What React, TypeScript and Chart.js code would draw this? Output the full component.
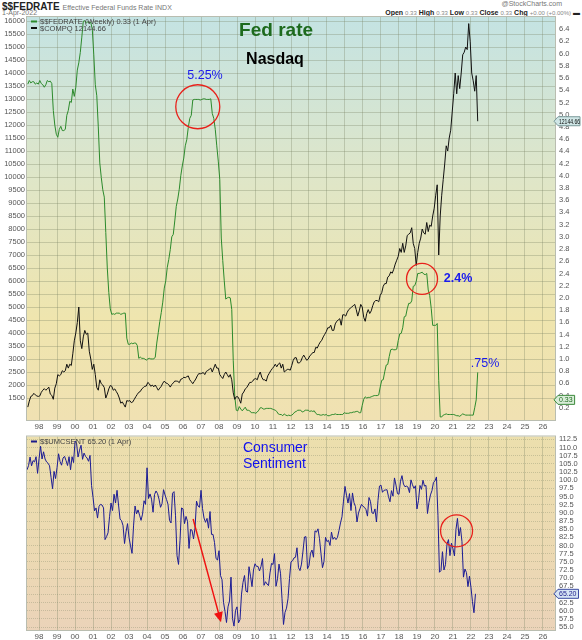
import React, { useEffect, useRef } from "react";
import { Chart, registerables } from "chart.js";
Chart.register(...registerables);

const FONT = '"Liberation Sans", Arial, sans-serif';

// ---------- axis ticks ----------
const YEAR_TICKS = [1998, 1999, 2000, 2001, 2002, 2003, 2004, 2005, 2006, 2007, 2008, 2009, 2010, 2011, 2012, 2013, 2014, 2015, 2016, 2017, 2018, 2019, 2020, 2021, 2022, 2023, 2024, 2025, 2026];
const YEAR_LABELS = ["98", "99", "00", "01", "02", "03", "04", "05", "06", "07", "08", "09", "10", "11", "12", "13", "14", "15", "16", "17", "18", "19", "20", "21", "22", "23", "24", "25", "26"];
const NASDAQ_TICKS = [1500, 2000, 2500, 3000, 3500, 4000, 4500, 5000, 5500, 6000, 6500, 7000, 7500, 8000, 8500, 9000, 9500, 10000, 10500, 11000, 11500, 12000, 12500, 13000, 13500, 14000, 14500, 15000, 15500, 16000];
const FED_TICKS = [0.2, 0.4, 0.6, 0.8, 1.0, 1.2, 1.4, 1.6, 1.8, 2.0, 2.2, 2.4, 2.6, 2.8, 3.0, 3.2, 3.4, 3.6, 3.8, 4.0, 4.2, 4.4, 4.6, 4.8, 5.0, 5.2, 5.4, 5.6, 5.8, 6.0, 6.2, 6.4];
const SENT_TICKS = [55, 57.5, 60, 62.5, 65, 67.5, 70, 72.5, 75, 77.5, 80, 82.5, 85, 87.5, 90, 92.5, 95, 97.5, 100, 102.5, 105, 107.5, 110, 112.5];

// ---------- series (monthly, starting May 1997) ----------
const SERIES_START_YEAR = 1997;
const SERIES_START_MONTH = 4; // 0-based: May

const NASDAQ = [
  // 1997 May-Dec
  1150, 1380, 1560, 1590, 1680, 1620, 1580, 1560,
  // 1998
  1580, 1720, 1800, 1860, 1800, 1850, 1920, 1650, 1600, 1450, 1880, 2050,
  // 1999
  2400, 2350, 2400, 2550, 2500, 2550, 2800, 2650, 2800, 2750, 3200, 3700,
  // 2000
  4000, 4400, 5000, 3700, 3400, 3850, 4100, 3950, 4000, 3300, 3000, 2600,
  // 2001
  2800, 2400, 1900, 1800, 2200, 2050, 2000, 1900, 1500, 1650, 1850, 1980,
  // 2002
  1950, 1800, 1850, 1750, 1650, 1500, 1300, 1350, 1250, 1150, 1400, 1380,
  // 2003
  1400, 1320, 1350, 1450, 1550, 1640, 1720, 1750, 1850, 1900, 1950, 1960,
  // 2004
  2100, 2050, 1950, 2000, 1930, 2000, 1900, 1800, 1880, 1950, 2070, 2150,
  // 2005
  2080, 2060, 2010, 1920, 2020, 2080, 2150, 2150, 2140, 2090, 2220, 2240,
  // 2006
  2300, 2280, 2320, 2350, 2200, 2130, 2050, 2140, 2230, 2350, 2440, 2430,
  // 2007
  2450, 2480, 2400, 2520, 2560, 2600, 2650, 2500, 2650, 2800, 2650, 2650,
  // 2008
  2400, 2320, 2250, 2400, 2500, 2400, 2300, 2400, 2200, 1700, 1450, 1550,
  // 2009
  1550, 1450, 1300, 1650, 1730, 1850, 1900, 2000, 2100, 2100, 2150, 2230,
  // 2010
  2250, 2200, 2380, 2500, 2300, 2200, 2200, 2150, 2350, 2450, 2550, 2630,
  // 2011
  2700, 2800, 2700, 2800, 2850, 2650, 2800, 2500, 2550, 2600, 2600, 2570,
  // 2012
  2750, 2950, 3050, 3050, 2850, 2850, 2900, 3050, 3150, 3050, 2950, 3000,
  // 2013
  3120, 3170, 3250, 3250, 3450, 3420, 3550, 3650, 3720, 3850, 3950, 4050,
  // 2014
  4200, 4200, 4300, 4100, 4100, 4350, 4450, 4500, 4550, 4300, 4700, 4700,
  // 2015
  4650, 4800, 4900, 4950, 5000, 5050, 5100, 4900, 4650, 4850, 5100, 5000,
  // 2016
  4600, 4450, 4750, 4900, 4750, 4850, 5050, 5200, 5250, 5250, 5200, 5450,
  // 2017
  5550, 5800, 5900, 5900, 6150, 6200, 6350, 6300, 6450, 6650, 6800, 6950,
  // 2018
  7250, 7100, 7450, 7100, 7350, 7750, 7800, 7850, 8050, 7450, 7250, 6600,
  // 2019
  7100, 7450, 7650, 8000, 7850, 7800, 8250, 7900, 8150, 8100, 8500, 8800,
  // 2020
  9300, 9700, 7000, 8500, 9300, 9900, 10500, 11200, 11000, 11500, 11800, 12500,
  // 2021
  13200, 14000, 13200, 13900, 13400, 14000, 14700, 14800, 15000, 14900, 15900, 15200,
  // 2022 Jan-May
  14000, 13700, 13300, 13900, 12144.66,
];

const FED_RATE = [
  // 1997 May-Dec
  5.50, 5.56, 5.52, 5.54, 5.54, 5.50, 5.52, 5.50,
  // 1998
  5.56, 5.51, 5.49, 5.45, 5.49, 5.56, 5.54, 5.55, 5.51, 5.07, 4.83, 4.68,
  // 1999
  4.63, 4.76, 4.81, 4.74, 4.74, 4.76, 4.99, 5.07, 5.22, 5.20, 5.42, 5.30,
  // 2000
  5.45, 5.73, 5.85, 6.02, 6.27, 6.53, 6.54, 6.50, 6.52, 6.51, 6.51, 6.40,
  // 2001
  5.98, 5.49, 5.31, 4.80, 4.21, 3.97, 3.77, 3.65, 3.07, 2.49, 2.09, 1.82,
  // 2002
  1.73, 1.74, 1.73, 1.75, 1.75, 1.75, 1.73, 1.74, 1.75, 1.75, 1.34, 1.24,
  // 2003
  1.24, 1.26, 1.25, 1.26, 1.26, 1.22, 1.01, 1.03, 1.01, 1.01, 1.00, 0.98,
  // 2004
  1.00, 1.01, 1.00, 1.00, 1.00, 1.03, 1.26, 1.43, 1.61, 1.76, 1.93, 2.16,
  // 2005
  2.28, 2.50, 2.63, 2.79, 3.00, 3.04, 3.26, 3.50, 3.62, 3.78, 4.00, 4.16,
  // 2006
  4.29, 4.49, 4.59, 4.79, 4.94, 4.99, 5.24, 5.25, 5.25, 5.25, 5.25, 5.24,
  // 2007
  5.25, 5.26, 5.26, 5.25, 5.25, 5.25, 5.26, 5.02, 4.94, 4.76, 4.49, 4.24,
  // 2008
  3.94, 2.98, 2.61, 2.28, 1.98, 2.00, 2.01, 2.00, 1.81, 0.97, 0.39, 0.16,
  // 2009
  0.15, 0.22, 0.18, 0.15, 0.18, 0.21, 0.16, 0.16, 0.15, 0.12, 0.12, 0.12,
  // 2010
  0.11, 0.13, 0.16, 0.20, 0.20, 0.18, 0.18, 0.19, 0.19, 0.19, 0.19, 0.18,
  // 2011
  0.17, 0.16, 0.14, 0.10, 0.09, 0.09, 0.07, 0.10, 0.08, 0.07, 0.08, 0.07,
  // 2012
  0.08, 0.10, 0.13, 0.14, 0.16, 0.16, 0.16, 0.13, 0.14, 0.16, 0.16, 0.16,
  // 2013
  0.14, 0.15, 0.14, 0.15, 0.11, 0.09, 0.09, 0.08, 0.08, 0.09, 0.08, 0.09,
  // 2014
  0.07, 0.07, 0.08, 0.09, 0.09, 0.10, 0.09, 0.09, 0.09, 0.09, 0.09, 0.12,
  // 2015
  0.11, 0.11, 0.11, 0.12, 0.12, 0.13, 0.13, 0.14, 0.14, 0.12, 0.12, 0.24,
  // 2016
  0.34, 0.38, 0.36, 0.37, 0.37, 0.38, 0.39, 0.40, 0.40, 0.40, 0.41, 0.54,
  // 2017
  0.65, 0.66, 0.79, 0.90, 0.91, 1.04, 1.15, 1.16, 1.15, 1.15, 1.16, 1.30,
  // 2018
  1.41, 1.42, 1.51, 1.69, 1.70, 1.82, 1.91, 1.91, 1.95, 2.19, 2.20, 2.27,
  // 2019
  2.40, 2.40, 2.41, 2.42, 2.39, 2.38, 2.40, 2.13, 2.04, 1.83, 1.55, 1.55,
  // 2020
  1.55, 1.58, 0.65, 0.05, 0.05, 0.08, 0.09, 0.10, 0.09, 0.09, 0.09, 0.09,
  // 2021
  0.09, 0.08, 0.07, 0.07, 0.06, 0.08, 0.10, 0.09, 0.08, 0.08, 0.08, 0.08,
  // 2022 Jan-May
  0.08, 0.08, 0.20, 0.33, 0.78,
];

const SENTIMENT = [
  // 1997 May-Dec
  103.2, 104.5, 107.1, 104.4, 106.0, 105.6, 107.2, 102.1,
  // 1998
  106.6, 110.4, 106.5, 108.7, 106.5, 105.6, 105.2, 104.4, 100.9, 97.4, 102.7, 100.5,
  // 1999
  103.9, 108.1, 105.7, 104.6, 106.8, 107.3, 106.0, 104.5, 107.2, 103.2, 107.2, 105.4,
  // 2000
  112.0, 111.3, 107.1, 109.2, 110.7, 106.4, 108.3, 107.3, 106.8, 105.8, 107.6, 98.4,
  // 2001
  94.7, 90.6, 91.5, 88.4, 92.0, 92.6, 92.4, 91.5, 81.8, 82.7, 83.9, 88.8,
  // 2002
  93.0, 90.7, 95.7, 93.0, 96.9, 92.4, 88.1, 87.6, 86.1, 80.6, 84.2, 86.7,
  // 2003
  82.4, 79.9, 77.6, 86.0, 92.1, 89.7, 90.9, 89.3, 87.7, 89.6, 93.7, 92.6,
  // 2004
  103.8, 94.4, 95.8, 94.2, 90.2, 95.6, 96.7, 95.9, 94.2, 91.7, 92.8, 97.1,
  // 2005
  95.5, 94.1, 92.6, 87.7, 86.9, 96.0, 96.5, 89.1, 76.9, 74.2, 81.6, 91.5,
  // 2006
  91.2, 86.7, 88.9, 87.4, 79.1, 84.9, 84.7, 82.0, 85.4, 93.6, 92.1, 91.7,
  // 2007
  96.9, 91.3, 88.4, 87.1, 88.3, 85.3, 90.4, 83.4, 83.4, 80.9, 76.1, 75.5,
  // 2008
  78.4, 70.8, 69.5, 62.6, 59.8, 56.4, 61.2, 63.0, 70.3, 57.6, 55.3, 60.1,
  // 2009
  61.2, 56.3, 57.3, 65.1, 68.7, 70.8, 66.0, 65.7, 73.5, 70.6, 67.4, 72.5,
  // 2010
  74.4, 73.6, 73.6, 72.2, 73.6, 76.0, 67.8, 68.9, 68.2, 67.7, 71.6, 74.5,
  // 2011
  74.2, 77.5, 67.5, 69.8, 74.3, 71.5, 63.7, 55.8, 59.5, 60.8, 63.7, 69.9,
  // 2012
  75.0, 75.3, 76.2, 76.4, 79.3, 73.2, 72.3, 74.3, 78.3, 82.6, 82.7, 72.9,
  // 2013
  73.8, 77.6, 78.6, 76.4, 84.5, 84.1, 85.1, 82.1, 77.5, 73.2, 75.1, 82.5,
  // 2014
  81.2, 81.6, 80.0, 84.1, 81.9, 82.5, 81.8, 82.5, 84.6, 86.9, 88.8, 93.6,
  // 2015
  98.1, 95.4, 93.0, 95.9, 90.7, 96.1, 93.1, 91.9, 87.2, 90.0, 91.3, 92.6,
  // 2016
  92.0, 91.7, 91.0, 89.0, 94.7, 93.5, 90.0, 89.8, 91.2, 87.2, 93.8, 98.2,
  // 2017
  98.5, 96.3, 96.9, 97.0, 97.1, 95.0, 93.4, 96.8, 95.1, 100.7, 98.5, 95.9,
  // 2018
  95.7, 99.7, 101.4, 98.8, 98.0, 98.2, 97.9, 96.2, 100.1, 98.6, 97.5, 98.3,
  // 2019
  91.2, 93.8, 98.4, 97.2, 100.0, 98.2, 98.4, 89.8, 93.2, 95.5, 96.8, 99.3,
  // 2020
  99.8, 101.0, 89.1, 71.8, 72.3, 78.1, 72.5, 74.1, 80.4, 81.8, 76.9, 80.7,
  // 2021
  79.0, 76.8, 84.9, 88.3, 82.9, 85.5, 81.2, 70.3, 72.8, 71.7, 67.4, 70.6,
  // 2022 Jan-Apr
  67.2, 62.8, 59.4, 65.2,
];

const LAST_NASDAQ = 12144.66;
const LAST_FED = 0.33;
const LAST_SENT = 65.2;

// ---------- layout constants ----------
const X_MIN = 1997.33;
const X_MAX = 2026.67;
const TOP_H = 431;
const BOT_TOP = 428;
const BOT_H = 212;

const GRID = "rgba(120,130,100,0.32)";
const TICK_COLOR = "#555";

function monthlyPoints(values: number[], offset: number) {
  return values.map((v, i) => ({
    x: SERIES_START_YEAR + (SERIES_START_MONTH + i + offset) / 12,
    y: v,
  }));
}

function bgPlugin(stops: [number, string][]) {
  return {
    id: "bg",
    beforeDraw(chart: any) {
      const { ctx, chartArea: a } = chart;
      const g = ctx.createLinearGradient(0, a.top, 0, a.bottom);
      stops.forEach(([o, c]) => g.addColorStop(o, c));
      ctx.save();
      ctx.fillStyle = g;
      ctx.fillRect(a.left, a.top, a.right - a.left, a.bottom - a.top);
      ctx.restore();
    },
    afterDraw(chart: any) {
      const { ctx, chartArea: a } = chart;
      ctx.save();
      ctx.strokeStyle = "#b9bdb0";
      ctx.lineWidth = 1;
      ctx.strokeRect(a.left - 0.5, a.top - 0.5, a.right - a.left + 1, a.bottom - a.top + 1);
      ctx.restore();
    },
  };
}

function drawTag(ctx: CanvasRenderingContext2D, x: number, y: number, text: string, fill: string, stroke: string, color: string) {
  ctx.save();
  ctx.font = `7px ${FONT}`;
  const w = Math.min(ctx.measureText(text).width + 3, 582 - x - 4);
  const h = 9;
  ctx.beginPath();
  ctx.moveTo(x - 2, y);
  ctx.lineTo(x + 2, y - h / 2);
  ctx.lineTo(x + 2 + w, y - h / 2);
  ctx.lineTo(x + 2 + w, y + h / 2);
  ctx.lineTo(x + 2, y + h / 2);
  ctx.closePath();
  ctx.fillStyle = fill;
  ctx.fill();
  ctx.strokeStyle = stroke;
  ctx.lineWidth = 1;
  ctx.stroke();
  ctx.fillStyle = color;
  ctx.textAlign = "left";
  ctx.textBaseline = "middle";
  ctx.fillText(text, x + 3, y + 0.5, w - 1);
  ctx.restore();
}

function legendLine(ctx: CanvasRenderingContext2D, x: number, y: number, color: string, text: string) {
  ctx.save();
  ctx.strokeStyle = color;
  ctx.lineWidth = 2;
  ctx.beginPath();
  ctx.moveTo(x, y);
  ctx.lineTo(x + 6, y);
  ctx.stroke();
  ctx.font = `7.5px ${FONT}`;
  ctx.fillStyle = "#444";
  ctx.textBaseline = "middle";
  ctx.textAlign = "left";
  ctx.fillText(text, x + 9, y + 0.5);
  ctx.restore();
}

const TOP_CIRCLES = [
  { year: 2006.82, rate: 5.13, r: 22 },
  { year: 2019.28, rate: 2.31, r: 15.5 },
];
const TOP_TEXTS = [
  { text: "Fed rate", year: 2011.17, rate: 6.37, font: `bold 19px ${FONT}`, color: "#1d6a1d" },
  { text: "Nasdaq", year: 2011.11, rate: 5.91, font: `bold 16px ${FONT}`, color: "#000" },
  { text: "5.25%", year: 2007.22, rate: 5.64, font: `12.5px ${FONT}`, color: "#1a1aee" },
  { text: "2.4%", year: 2021.28, rate: 2.32, font: `bold 12.5px ${FONT}`, color: "#1a1aee" },
  { text: ".75%", year: 2022.78, rate: 0.93, font: `12.5px ${FONT}`, color: "#1a1aee" },
];

const topAnno = {
  id: "topAnno",
  afterDatasetsDraw(chart: any) {
    const { ctx, scales, chartArea } = chart;
    const x = scales.x;
    const yR = scales.yR;
    ctx.save();
    ctx.strokeStyle = "#e8201a";
    ctx.lineWidth = 1.3;
    for (const c of TOP_CIRCLES) {
      ctx.beginPath();
      ctx.arc(x.getPixelForValue(c.year), yR.getPixelForValue(c.rate), c.r, 0, Math.PI * 2);
      ctx.stroke();
    }
    ctx.textAlign = "center";
    ctx.textBaseline = "middle";
    for (const t of TOP_TEXTS) {
      ctx.font = t.font;
      ctx.fillStyle = t.color;
      ctx.fillText(t.text, x.getPixelForValue(t.year), yR.getPixelForValue(t.rate));
    }
    ctx.restore();
    legendLine(ctx, chartArea.left + 4, chartArea.top + 4.5, "#2c8a2c", `$$FEDRATE (Weekly) ${LAST_FED.toFixed(2)} (1 Apr)`);
    legendLine(ctx, chartArea.left + 4, chartArea.top + 11, "#111", `$COMPQ ${LAST_NASDAQ.toFixed(2)}`);
  },
  afterDraw(chart: any) {
    const { ctx, scales, chartArea } = chart;
    drawTag(ctx, chartArea.right + 1, scales.yL.getPixelForValue(LAST_NASDAQ), LAST_NASDAQ.toFixed(2), "#cfe6e6", "#7a9a9a", "#111");
    drawTag(ctx, chartArea.right + 1, scales.yR.getPixelForValue(LAST_FED), LAST_FED.toFixed(2), "#d8ecd8", "#3a8a3a", "#1d6a1d");
  },
};

const BOT_CIRCLES = [{ year: 2021.2, value: 84.5, r: 16 }];
const BOT_TEXTS = [
  { text: "Consumer", year: 2009.33, value: 109.8 },
  { text: "Sentiment", year: 2009.33, value: 104.8 },
];
const BOT_ARROW = { from: { year: 2006.56, value: 88.1 }, to: { year: 2008.11, value: 56.5 } };

const botAnno = {
  id: "botAnno",
  afterDatasetsDraw(chart: any) {
    const { ctx, scales, chartArea } = chart;
    const x = scales.x;
    const y = scales.y;
    ctx.save();
    ctx.strokeStyle = "#e8201a";
    ctx.lineWidth = 1.3;
    for (const c of BOT_CIRCLES) {
      ctx.beginPath();
      ctx.arc(x.getPixelForValue(c.year), y.getPixelForValue(c.value), c.r, 0, Math.PI * 2);
      ctx.stroke();
    }
    const x1 = x.getPixelForValue(BOT_ARROW.from.year);
    const y1 = y.getPixelForValue(BOT_ARROW.from.value);
    const x2 = x.getPixelForValue(BOT_ARROW.to.year);
    const y2 = y.getPixelForValue(BOT_ARROW.to.value);
    const ang = Math.atan2(y2 - y1, x2 - x1);
    ctx.strokeStyle = "#f01010";
    ctx.fillStyle = "#f01010";
    ctx.lineWidth = 1.4;
    ctx.beginPath();
    ctx.moveTo(x1, y1);
    ctx.lineTo(x2 - Math.cos(ang) * 8, y2 - Math.sin(ang) * 8);
    ctx.stroke();
    ctx.beginPath();
    ctx.moveTo(x2, y2);
    ctx.lineTo(x2 - Math.cos(ang) * 10 + Math.sin(ang) * 4.5, y2 - Math.sin(ang) * 10 - Math.cos(ang) * 4.5);
    ctx.lineTo(x2 - Math.cos(ang) * 10 - Math.sin(ang) * 4.5, y2 - Math.sin(ang) * 10 + Math.cos(ang) * 4.5);
    ctx.closePath();
    ctx.fill();
    ctx.font = `14px ${FONT}`;
    ctx.fillStyle = "#1010ee";
    ctx.textAlign = "left";
    ctx.textBaseline = "middle";
    for (const t of BOT_TEXTS) {
      ctx.fillText(t.text, x.getPixelForValue(t.year), y.getPixelForValue(t.value));
    }
    ctx.restore();
    legendLine(ctx, chartArea.left + 4, chartArea.top + 5, "#1a1a8a", `$$UMCSENT ${LAST_SENT.toFixed(2)} (1 Apr)`);
  },
  afterDraw(chart: any) {
    const { ctx, scales, chartArea } = chart;
    drawTag(ctx, chartArea.right + 1, scales.y.getPixelForValue(LAST_SENT), LAST_SENT.toFixed(2), "#d6e4f4", "#3a4aa0", "#1a1a8a");
  },
};

function yearAxis(height: number) {
  return {
    type: "linear" as const,
    min: X_MIN,
    max: X_MAX,
    position: "bottom" as const,
    afterBuildTicks: (s: any) => {
      s.ticks = YEAR_TICKS.map((v) => ({ value: v }));
    },
    afterFit: (s: any) => {
      s.height = height;
    },
    ticks: {
      autoSkip: false,
      maxRotation: 0,
      padding: 2,
      color: TICK_COLOR,
      font: { size: 8, family: FONT },
      callback: (v: any) => {
        const i = YEAR_TICKS.indexOf(Math.round(Number(v)));
        return i >= 0 ? YEAR_LABELS[i] : "";
      },
    },
    grid: { color: GRID, drawTicks: false },
    border: { display: false },
  };
}

function valueAxis(position: "left" | "right", min: number, max: number, ticksArr: number[], decimals: number, showGrid: boolean) {
  return {
    type: "linear" as const,
    position,
    min,
    max,
    afterBuildTicks: (s: any) => {
      s.ticks = ticksArr.map((v) => ({ value: v }));
    },
    afterFit: (s: any) => {
      s.width = 27;
    },
    ticks: {
      autoSkip: false,
      padding: position === "left" ? 2 : 4,
      color: TICK_COLOR,
      font: { size: 7.5, family: FONT },
      callback: (v: any) => (decimals > 0 ? Number(v).toFixed(decimals) : String(v)),
    },
    grid: { display: showGrid, color: GRID, drawTicks: false },
    border: position === "right" ? { display: true, color: "#8a8a8a", dash: [1, 1] } : { display: false },
  };
}

export default function App() {
  const topRef = useRef<HTMLCanvasElement>(null);
  const botRef = useRef<HTMLCanvasElement>(null);

  useEffect(() => {
    const topChart = new Chart(topRef.current as HTMLCanvasElement, {
      type: "line",
      data: {
        datasets: [
          {
            label: "$COMPQ",
            data: monthlyPoints(NASDAQ, 0.5),
            yAxisID: "yL",
            borderColor: "#111",
            borderWidth: 1,
            pointRadius: 0,
            tension: 0,
          },
          {
            label: "$$FEDRATE",
            data: monthlyPoints(FED_RATE, 0.5),
            yAxisID: "yR",
            borderColor: "#2c8a2c",
            borderWidth: 1,
            pointRadius: 0,
            tension: 0,
          },
        ],
      },
      options: {
        animation: false,
        responsive: false,
        maintainAspectRatio: false,
        layout: { padding: { top: 17, left: 0, right: 0, bottom: 0 } },
        plugins: { legend: { display: false }, tooltip: { enabled: false } },
        scales: {
          x: yearAxis(TOP_H - 420),
          yL: valueAxis("left", 654, 16154, NASDAQ_TICKS, 0, true),
          yR: valueAxis("right", 0, 6.6, FED_TICKS, 1, false),
        },
      } as any,
      plugins: [bgPlugin([[0, "#c4e3e3"], [0.4, "#dfe6c8"], [0.75, "#efe5ae"], [1, "#f0e1b2"]]), topAnno],
    });

    const botChart = new Chart(botRef.current as HTMLCanvasElement, {
      type: "line",
      data: {
        datasets: [
          {
            label: "$$UMCSENT",
            data: monthlyPoints(SENTIMENT, 0),
            yAxisID: "y",
            borderColor: "#1c1c94",
            borderWidth: 1,
            pointRadius: 0,
            tension: 0,
          },
        ],
      },
      options: {
        animation: false,
        responsive: false,
        maintainAspectRatio: false,
        layout: { padding: { top: 3, left: 27, right: 0, bottom: 0 } },
        plugins: { legend: { display: false }, tooltip: { enabled: false } },
        scales: {
          x: yearAxis(BOT_H - 202),
          y: valueAxis("right", 54.11, 113.39, SENT_TICKS, 1, true),
        },
      } as any,
      plugins: [bgPlugin([[0, "#ecdfad"], [0.6, "#ecd9b2"], [1, "#ebd3b9"]]), botAnno],
    });

    return () => {
      topChart.destroy();
      botChart.destroy();
    };
  }, []);

  const small: React.CSSProperties = { fontFamily: FONT, fontSize: 7, color: "#777" };
  return (
    <div style={{ position: "absolute", left: 0, top: 0, width: 582, height: 640, background: "#fff", overflow: "hidden" }}>
      <div style={{ position: "absolute", left: 2, top: 0, whiteSpace: "nowrap", lineHeight: "10px" }}>
        <span style={{ fontFamily: FONT, fontSize: 10, fontWeight: "bold", color: "#222" }}>$$FEDRATE</span>
        <span style={{ ...small, marginLeft: 3 }}>Effective Federal Funds Rate INDX</span>
      </div>
      <div style={{ ...small, position: "absolute", left: 2, top: 9, lineHeight: "8px" }}>1-Apr-2022</div>
      <div style={{ ...small, position: "absolute", right: 20, top: 0, lineHeight: "8px" }}>@StockCharts.com</div>
      <div style={{ position: "absolute", right: 2, top: 8, whiteSpace: "nowrap", lineHeight: "9px", fontFamily: FONT, fontSize: 7 }}>
        <b style={{ color: "#222" }}>Open</b> <span style={{ color: "#888", fontSize: 6 }}>0.33</span>{" "}
        <b style={{ color: "#222" }}>High</b> <span style={{ color: "#888", fontSize: 6 }}>0.33</span>{" "}
        <b style={{ color: "#222" }}>Low</b> <span style={{ color: "#888", fontSize: 6 }}>0.33</span>{" "}
        <b style={{ color: "#222" }}>Close</b> <span style={{ color: "#888", fontSize: 6 }}>0.33</span>{" "}
        <b style={{ color: "#222" }}>Chg</b> <span style={{ color: "#888", fontSize: 6 }}>+0.00 (+0.00%)</span>{" "}
        <b style={{ color: "#222" }}>▬</b>
      </div>
      <canvas ref={topRef} width={582} height={TOP_H} style={{ position: "absolute", left: 0, top: 0, width: 582, height: TOP_H }} />
      <canvas ref={botRef} width={582} height={BOT_H} style={{ position: "absolute", left: 0, top: BOT_TOP, width: 582, height: BOT_H }} />
    </div>
  );
}
